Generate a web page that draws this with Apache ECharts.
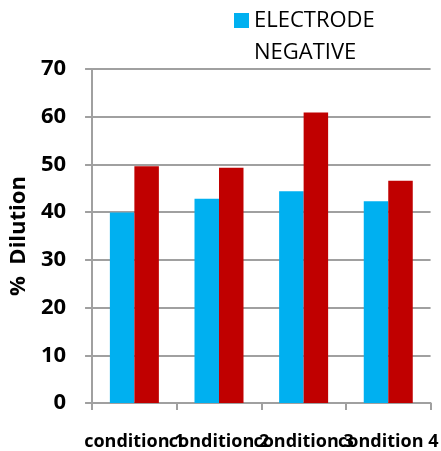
<!DOCTYPE html>
<html>
<head>
<meta charset="utf-8">
<script src="https://cdn.jsdelivr.net/npm/echarts@6/dist/echarts.min.js"></script>
<style>html,body{margin:0;padding:0;background:#fff}#c{width:441px;height:451px}</style>
</head>
<body>
<div id="c"></div>
<script>
const categories = ['condition 1', 'condition 2', 'condition 3', 'condition 4'];
const electrodeNegative = [39.9, 42.8, 44.4, 42.3];
const electrodePositive = [49.6, 49.3, 60.9, 46.6];
const yTicks = [0, 10, 20, 30, 40, 50, 60, 70];

const chart = echarts.init(document.getElementById('c'), null, {renderer: 'canvas'});
const grey = '#a0a0a0';
chart.setOption({
  animation: false,
  backgroundColor: '#ffffff',
  grid: {left: 92, right: 7, top: 69, bottom: 47, containLabel: false},
  legend: {
    data: ['ELECTRODE NEGATIVE'],
    left: 234,
    top: -27.5,
    padding: 0,
    icon: 'rect',
    itemWidth: 15,
    itemHeight: 15,
    formatter: n => '\n' + n.replace(' ', '\n'),
    textStyle: {fontFamily: 'Open Sans', fontSize: 22, color: '#000', lineHeight: 32}
  },
  xAxis: {
    type: 'category',
    data: categories,
    axisLine: {lineStyle: {color: grey, width: 2}},
    axisTick: {show: true, length: 7, lineStyle: {color: grey, width: 2}},
    axisLabel: {margin: 30, interval: 0, fontFamily: 'Open Sans', fontWeight: 'bold', fontSize: 18, color: '#000'}
  },
  yAxis: {
    type: 'value',
    min: yTicks[0],
    max: yTicks[yTicks.length - 1],
    interval: 10,
    name: '%  Dilution',
    nameLocation: 'middle',
    nameGap: 62,
    nameRotate: 90,
    nameTextStyle: {fontFamily: 'Open Sans', fontWeight: 'bold', fontSize: 22, color: '#000'},
    axisLine: {show: true, lineStyle: {color: grey, width: 2}},
    axisTick: {show: true, length: 7, lineStyle: {color: grey, width: 2}},
    splitLine: {show: true, lineStyle: {color: grey, width: 2}},
    axisLabel: {margin: 26, fontFamily: 'Open Sans', fontWeight: 'bold', fontSize: 22, color: '#000'}
  },
  series: [
    {name: 'ELECTRODE NEGATIVE', type: 'bar', data: electrodeNegative, barWidth: 24.5, barGap: '0%', itemStyle: {color: '#00B0F0'}},
    {name: 'ELECTRODE POSITIVE', type: 'bar', data: electrodePositive, barWidth: 24.5, barGap: '0%', itemStyle: {color: '#C00000'}}
  ]
});
</script>
</body>
</html>
